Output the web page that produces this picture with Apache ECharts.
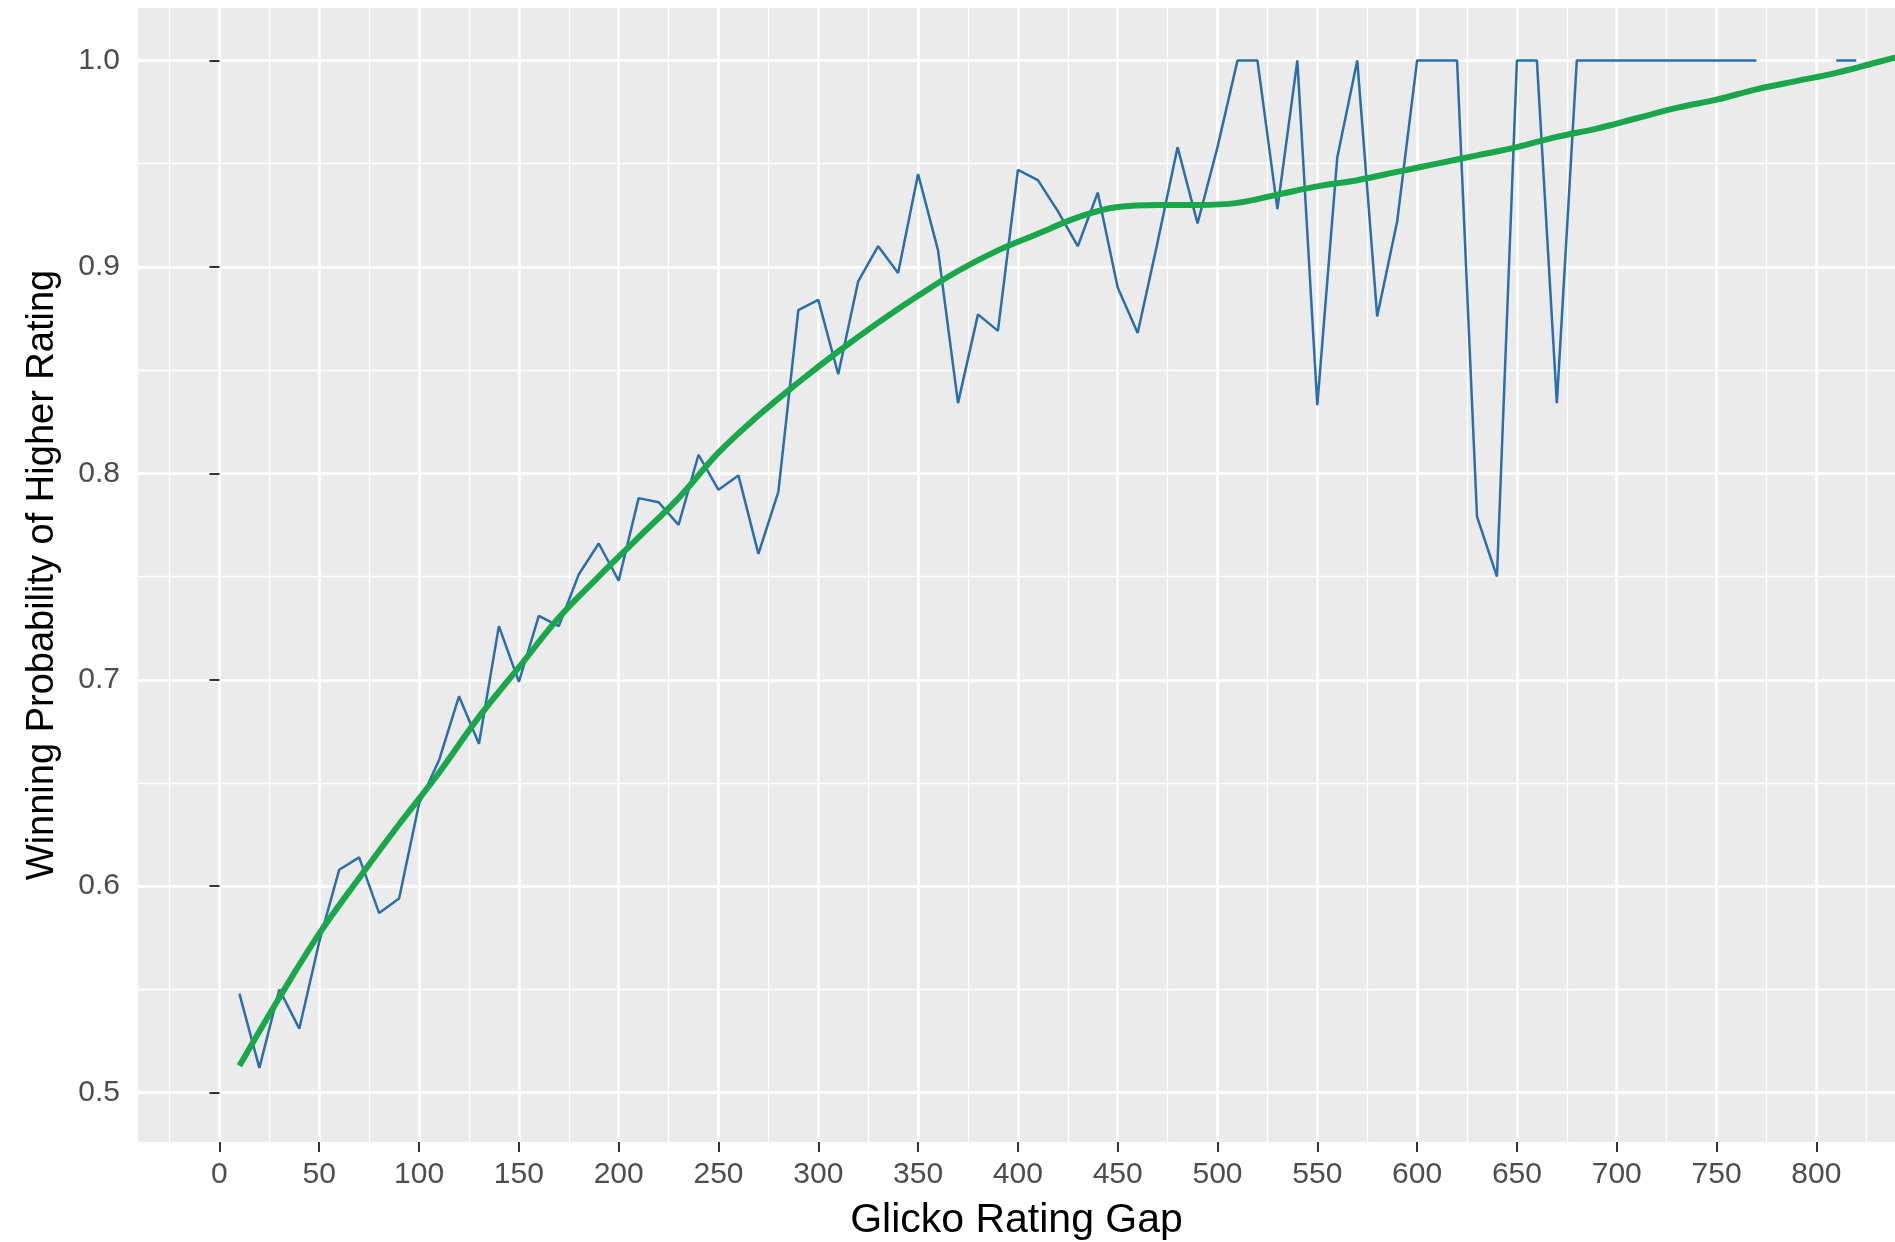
<!DOCTYPE html>
<html>
<head>
<meta charset="utf-8">
<script src="https://cdn.jsdelivr.net/npm/echarts@6/dist/echarts.min.js"></script>
<style>
html,body{margin:0;padding:0;background:#fff;}
#chart{width:1895px;height:1242px;}
</style>
</head>
<body>
<div id="chart"></div>
<script>
// ---- data ----
const gapX = [10,20,30,40,50,60,70,80,90,100,110,120,130,140,150,160,170,180,190,200,
  210,220,230,240,250,260,270,280,290,300,310,320,330,340,350,360,370,380,390,400,
  410,420,430,440,450,460,470,480,490,500,510,520,530,540,550,560,570,580,590,600,
  610,620,630,640,650,660,670,680,690,700,710,720,730,740,750,760,770,780,790,800,810,820];
const winProb = [0.548,0.512,0.550,0.531,0.573,0.608,0.614,0.587,0.594,0.640,
  0.661,0.692,0.669,0.726,0.699,0.731,0.726,0.751,0.766,0.748,
  0.788,0.786,0.775,0.809,0.792,0.799,0.761,0.791,0.879,0.884,
  0.848,0.893,0.910,0.897,0.945,0.908,0.834,0.877,0.869,0.947,
  0.942,0.927,0.910,0.936,0.890,0.868,0.912,0.958,0.921,0.958,
  1.0,1.0,0.928,1.0,0.833,0.953,1.0,0.876,0.922,1.0,
  1.0,1.0,0.779,0.750,1.0,1.0,0.834,1.0,1.0,1.0,
  1.0,1.0,1.0,1.0,1.0,1.0,1.0,null,null,null,1.0,1.0];
const smoothX = [10,30,50,70,90,110,130,150,170,190,210,230,250,270,290,310,330,350,370,390,
  410,430,450,470,490,510,530,550,570,590,610,630,650,670,690,710,730,750,770,790,810,830,850];
const smoothY = [0.513,0.546,0.577,0.604,0.630,0.655,0.682,0.706,0.730,0.750,
  0.769,0.788,0.810,0.828,0.844,0.859,0.873,0.886,0.898,0.908,
  0.916,0.924,0.929,0.930,0.930,0.931,0.935,0.939,0.942,0.946,
  0.950,0.954,0.958,0.963,0.967,0.972,0.977,0.981,0.986,0.990,0.994,0.999,1.004];
const xMajorTicks = [0,50,100,150,200,250,300,350,400,450,500,550,600,650,700,750,800];
const xMinorTicks = [-25,25,75,125,175,225,275,325,375,425,475,525,575,625,675,725,775,825];
const yMajorTicks = [0.5,0.6,0.7,0.8,0.9,1.0];
const yMinorTicks = [0.55,0.65,0.75,0.85,0.95];
const xTitle = 'Glicko Rating Gap';
const yTitle = 'Winning Probability of Higher Rating';

// ---- chart ----
const FONT = '"Liberation Sans", Arial, sans-serif';
const X_MIN = -40.8, X_MAX = 839.4;
const Y_MIN = 0.4761, Y_MAX = 1.0254;

const blueData = gapX.map((x, i) => [x, winProb[i] == null ? '-' : winProb[i]]);
const greenData = smoothX.map((x, i) => [x, smoothY[i]]);

const chart = echarts.init(document.getElementById('chart'), null, {renderer: 'canvas'});
chart.setOption({
  backgroundColor: '#ffffff',
  animation: false,
  grid: {left: 138, right: 0, top: 8, bottom: 100, show: true, backgroundColor: '#EBEBEB', borderWidth: 0,
    containLabel: false, outerBoundsMode: 'none'},
  xAxis: [{
    type: 'value', min: X_MIN, max: X_MAX,
    axisLine: {show: false},
    axisTick: {show: true, customValues: xMajorTicks, length: 10, lineStyle: {color: '#333333', width: 2}},
    axisLabel: {customValues: xMajorTicks, color: '#4D4D4D', fontSize: 30, fontFamily: FONT, margin: 18},
    splitLine: {show: true, lineStyle: {color: '#ffffff', width: 2.6}},
    name: xTitle, nameLocation: 'middle', nameGap: 58,
    nameTextStyle: {color: '#000000', fontSize: 41, fontFamily: FONT}
  }, {
    type: 'value', min: X_MIN, max: X_MAX, position: 'bottom',
    axisLine: {show: false},
    axisTick: {show: false, customValues: xMinorTicks},
    axisLabel: {show: false, customValues: xMinorTicks},
    splitLine: {show: true, lineStyle: {color: '#ffffff', width: 1.3}}
  }],
  yAxis: [{
    type: 'value', min: Y_MIN, max: Y_MAX,
    axisLine: {show: false},
    axisTick: {show: true, customValues: yMajorTicks, length: 10, lineStyle: {color: '#333333', width: 2}},
    axisLabel: {customValues: yMajorTicks, color: '#4D4D4D', fontSize: 30, fontFamily: FONT, margin: 18,
      formatter: v => Number(v).toFixed(1)},
    splitLine: {show: true, lineStyle: {color: '#ffffff', width: 2.6}},
    name: yTitle, nameLocation: 'middle', nameGap: 76,
    nameTextStyle: {color: '#000000', fontSize: 38, fontFamily: FONT}
  }, {
    type: 'value', min: Y_MIN, max: Y_MAX, position: 'left',
    axisLine: {show: false},
    axisTick: {show: false, customValues: yMinorTicks},
    axisLabel: {show: false, customValues: yMinorTicks},
    splitLine: {show: true, lineStyle: {color: '#ffffff', width: 1.3}}
  }],
  series: [{
    type: 'line', name: 'observed', data: blueData, xAxisIndex: 0, yAxisIndex: 0,
    showSymbol: false, connectNulls: false, z: 3,
    lineStyle: {color: '#2A6EAA', width: 2.5}
  }, {
    type: 'line', name: 'smooth', data: greenData, xAxisIndex: 0, yAxisIndex: 0,
    showSymbol: false, smooth: 0.4, z: 4,
    lineStyle: {color: '#1AA64B', width: 6}
  }]
});
</script>
</body>
</html>
